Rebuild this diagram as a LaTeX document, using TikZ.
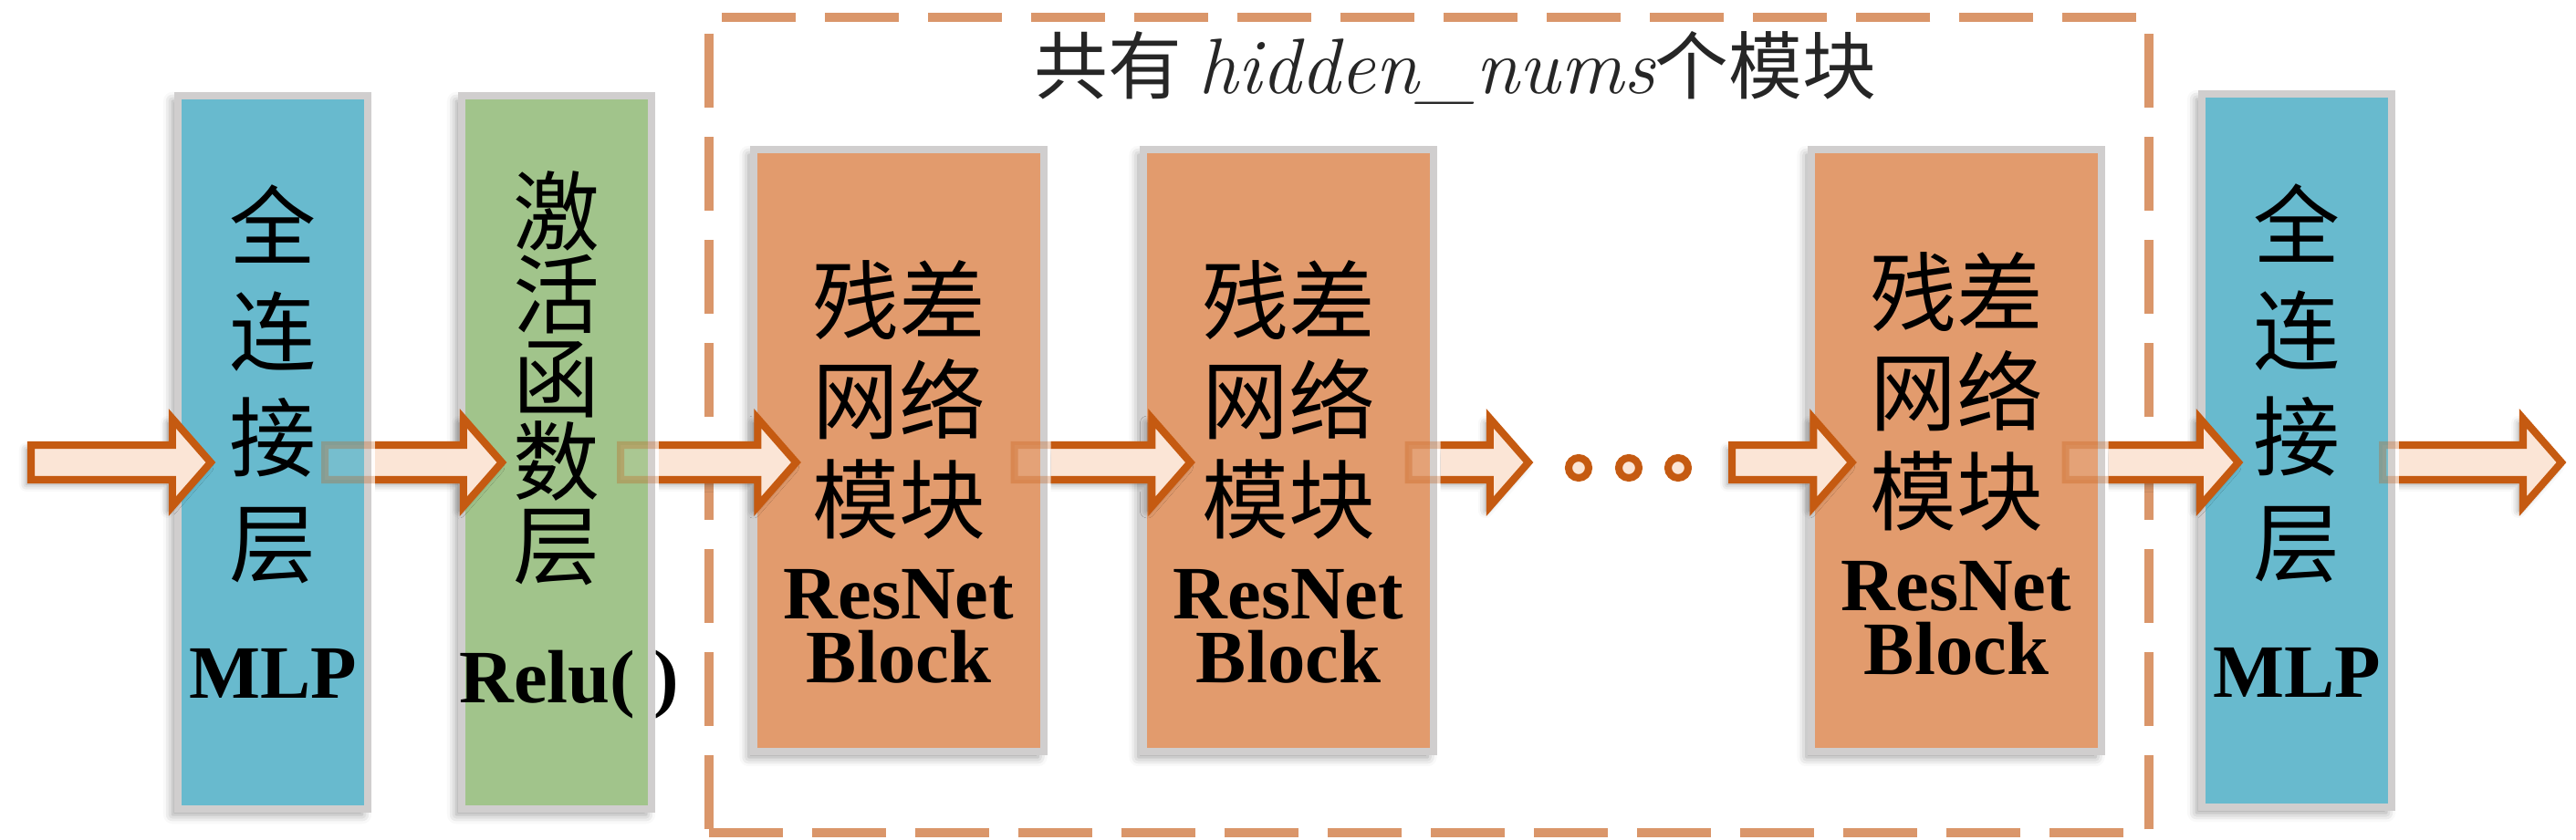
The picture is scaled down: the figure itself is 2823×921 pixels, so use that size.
\documentclass[tikz,border=0pt]{standalone}
\usepackage{fontspec}
\newfontfamily\songti{Noto Sans CJK SC}
\newfontfamily\timesfont{Liberation Serif}
\usetikzlibrary{calc,shadows.blur}

\definecolor{mlpblue}{HTML}{68BACE}
\definecolor{relugreen}{HTML}{A1C48B}
\definecolor{resorange}{HTML}{E29B6D}
\definecolor{rim}{HTML}{D0CECE}
\definecolor{arrowfill}{HTML}{FBE5D6}
\definecolor{arrowline}{HTML}{C55A11}
\definecolor{dashline}{HTML}{DA966A}
\definecolor{titlegray}{HTML}{262626}

\tikzset{
  rimbox/.style={draw=rim, line width=2.3pt, fill=#1, inner sep=0pt,
    minimum width=2.08cm, minimum height=7.82cm,
    blur shadow={shadow xshift=-0.06cm, shadow yshift=-0.06cm, shadow blur radius=0.1cm}},
  resbox/.style={rimbox=resorange, minimum width=3.17cm, minimum height=6.6cm},
  cjk/.style={font=\songti\fontsize{27}{33}\selectfont, align=center, inner sep=0pt, anchor=north},
  fatarrow/.style={draw=arrowline, fill=arrowfill, line width=2.3pt, line join=miter},
  arrowshadow/.style={blur shadow={shadow xshift=-0.05cm, shadow yshift=-0.05cm, shadow blur radius=0.08cm}},
  dot/.style={circle, draw=arrowline, fill=arrowfill, line width=2.3pt, minimum size=2.2mm, inner sep=0pt},
  groupframe/.style={draw=dashline, line width=2.85pt, dash pattern=on 8.1mm off 3.2mm},
}

\newcommand\latinbf[1]{{\timesfont\bfseries\fontsize{23.5}{23.5}\selectfont #1}}

% block arrow from tail point #2 to tip point #3; #1 = box the tail sits in
\newcommand\fatarrow[3][]{%
  \coordinate (arrtail) at (#2);
  \coordinate (arrtip) at (#3);
  \def\arrowshape{($(arrtail)+(0,-19)$) -- ($(arrtip)+(-42,-19)$) -- ($(arrtip)+(-42,-48)$) -- (arrtip)
    -- ($(arrtip)+(-42,48)$) -- ($(arrtip)+(-42,19)$) -- ($(arrtail)+(0,19)$) -- cycle}%
  \if\relax\detokenize{#1}\relax
    \draw[fatarrow, arrowshadow] \arrowshape;
  \else
    \draw[fatarrow, draw opacity=.3, fill opacity=.1] \arrowshape;
    \begin{scope}
      \clip ([xshift=0.4mm]#1.east |- 0,0) rectangle (2823,921);
      \draw[fatarrow, arrowshadow] \arrowshape;
    \end{scope}
  \fi}

\begin{document}
\begin{tikzpicture}[x=0.01cm,y=-0.01cm]
\useasboundingbox (0,0) rectangle (2823,921);
\coordinate (axis) at (0,507);
\coordinate (src) at (34,507);
\coordinate (dst) at (2807,507);

% dashed frame round the resnet blocks
\node[groupframe, minimum width=15.78cm, minimum height=8.94cm] (grp) at (1566,466) {};
\node[text=titlegray, font=\songti\fontsize{23}{23}\selectfont] (title) at ([xshift=0.29cm,yshift=-0.61cm]grp.north)
  {共有 {\normalfont\itshape\fontsize{24.5}{24.5}\selectfont hidden\_nums}个模块};

% layers
\node[rimbox=mlpblue] (b1) at (299,496) {};
\node[rimbox=relugreen] (b2) at (610,496) {};
\node[resbox] (b3) at (985,494) {};
\node[resbox] (b4) at (1412,494) {};
\node[resbox] (b5) at (2144,494) {};
\node[rimbox=mlpblue] (b6) at (2517,494) {};

\node[cjk] (t1) at ([yshift=-1.01cm]b1.north) {全\\连\\接\\层\\[5pt]\latinbf{MLP}};
\node[cjk, font=\songti\fontsize{27}{26}\selectfont] (t2) at ([yshift=-0.86cm]b2.north)
  {激\\活\\函\\数\\层\\[13pt]\hspace*{0.28cm}\latinbf{Relu( )}};
\foreach \b/\s in {3/-1.25cm,4/-1.25cm,5/-1.16cm}
  \node[cjk, font=\songti\fontsize{27}{31}\selectfont] (t\b) at ([yshift=\s]b\b.north)
    {残差\\网络\\模块\\[-4pt]\latinbf{ResNet}\\[-11pt]\latinbf{Block}};
\node[cjk] (t6) at ([yshift=-1.02cm]b6.north) {全\\连\\接\\层\\[5pt]\latinbf{MLP}};

% dots between the blocks
\foreach \i/\x in {1/1730,2/1785,3/1839}
  \node[dot] (d\i) at (\x,513) {};

% arrows
\fatarrow{src}{[xshift=0.4cm]b1.west |- axis}
\fatarrow[b1]{[xshift=-0.51cm]b1.east |- axis}{[xshift=0.48cm]b2.west |- axis}
\fatarrow[b2]{[xshift=-0.38cm]b2.east |- axis}{[xshift=0.5cm]b3.west |- axis}
\fatarrow[b3]{[xshift=-0.36cm]b3.east |- axis}{[xshift=0.55cm]b4.west |- axis}
\fatarrow[b4]{[xshift=-0.31cm]b4.east |- axis}{[xshift=-0.4cm]d1.west |- axis}
\fatarrow{[xshift=0.44cm]d3.east |- axis}{[xshift=0.48cm]b5.west |- axis}
\fatarrow[b5]{[xshift=-0.43cm]b5.east |- axis}{[xshift=0.44cm]b6.west |- axis}
\fatarrow[b6]{[xshift=-0.14cm]b6.east |- axis}{dst}
\end{tikzpicture}
\end{document}
